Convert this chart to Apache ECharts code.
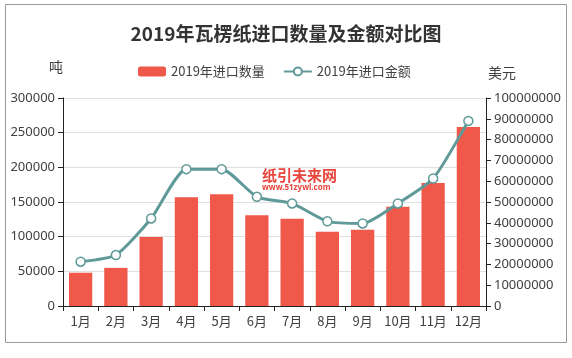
<!DOCTYPE html>
<html>
<head>
<meta charset="utf-8">
<script src="https://cdn.jsdelivr.net/npm/echarts@6/dist/echarts.min.js"></script>
<style>html,body{margin:0;padding:0;background:#fff;}#c{width:572px;height:358px;}</style>
</head>
<body>
<div id="c"></div>
<script>
const months = ['1月','2月','3月','4月','5月','6月','7月','8月','9月','10月','11月','12月'];
const quantity = [48000,55000,99500,157000,161000,131000,126000,107000,110000,143000,177500,258000];
const amount = [21300000,24500000,42100000,65800000,65800000,52500000,49300000,40700000,39700000,49300000,61300000,89000000];
const leftTicks = {min:0,max:300000,interval:50000};
const rightTicks = {min:0,max:100000000,interval:10000000};

const font = '"Noto Sans CJK SC", "Microsoft YaHei", sans-serif';
const numFont = '"Noto Sans", "Noto Sans CJK SC", sans-serif';
const chart = echarts.init(document.getElementById('c'));
chart.setOption({
  animation:false,
  backgroundColor:'#fff',
  title:{text:'2019年瓦楞纸进口数量及金额对比图',left:'center',top:19,
    textStyle:{fontFamily:font,fontSize:19,fontWeight:'bold',color:'#333'}},
  legend:{top:60,left:133,itemGap:18,itemWidth:28,itemHeight:10,
    textStyle:{fontFamily:font,fontSize:13,color:'#404040'},
    data:['2019年进口数量','2019年进口金额']},
  grid:{left:63,right:86,top:98,bottom:52},
  xAxis:{type:'category',data:months,
    axisLine:{lineStyle:{color:'#222',width:1}},
    axisTick:{show:true,length:5,lineStyle:{color:'#222'}},
    axisLabel:{fontFamily:font,fontSize:13,color:'#404040',margin:9,interval:0}},
  yAxis:[
    {type:'value',min:leftTicks.min,max:leftTicks.max,interval:leftTicks.interval,
     name:'吨',nameLocation:'end',nameGap:24,nameTextStyle:{fontFamily:font,fontSize:14,color:'#404040',align:'right',padding:[0,0,0,0]},
     axisLine:{show:true,lineStyle:{color:'#222'}},
     axisTick:{show:true,length:5,lineStyle:{color:'#222'}},
     axisLabel:{fontFamily:numFont,fontSize:13,color:'#404040',margin:8,formatter:v=>String(v)},
     splitLine:{lineStyle:{color:'#e0e0e0'}}},
    {type:'value',min:rightTicks.min,max:rightTicks.max,interval:rightTicks.interval,
     name:'美元',nameLocation:'end',nameGap:18,nameTextStyle:{fontFamily:font,fontSize:14,color:'#404040',align:'left',padding:[0,0,0,2]},
     axisLine:{show:true,lineStyle:{color:'#222'}},
     axisTick:{show:true,length:5,lineStyle:{color:'#222'}},
     axisLabel:{fontFamily:numFont,fontSize:13,color:'#404040',margin:8,formatter:v=>String(v)},
     splitLine:{show:false}}
  ],
  graphic:[
    {type:'rect',shape:{x:5.5,y:4.5,width:561,height:338},style:{fill:'none',stroke:'#9a9a9a',lineWidth:1},silent:true},
    {type:'text',left:262,top:168,z:10,style:{text:'纸引未来网',fill:'#e8453c',font:'bold 15px "Noto Sans CJK SC"'}},
    {type:'text',left:262,top:184,z:10,style:{text:'www.51zywl.com',fill:'#e8453c',font:'bold 8px "Noto Sans", sans-serif'}}
  ],
  series:[
    {name:'2019年进口数量',type:'bar',yAxisIndex:0,data:quantity,barWidth:'66%',
     itemStyle:{color:'#f0584a'}},
    {name:'2019年进口金额',type:'line',yAxisIndex:1,data:amount,smooth:0.2,
     symbol:'circle',symbolSize:9,
     lineStyle:{color:'#5f9a99',width:3},
     itemStyle:{color:'#ffffff',borderColor:'#5f9a99',borderWidth:1.5}}
  ]
});
</script>
</body>
</html>
